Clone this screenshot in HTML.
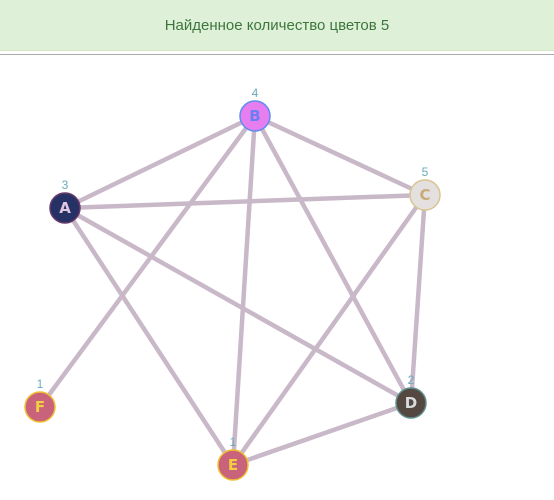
<!DOCTYPE html>
<html><head><meta charset="utf-8"><style>
body{margin:0;width:554px;height:500px;background:#fff;font-family:"Liberation Sans",sans-serif;overflow:hidden}
#hdr{position:absolute;left:0;top:0;width:554px;height:50px;background:#dff0d8;border-bottom:1px solid #d6e9c6;color:#3c763d;font-size:15px;text-align:center;line-height:52px}
#rule{position:absolute;left:0;top:54px;width:554px;height:1px;background:#aaa}
svg{position:absolute;left:0;top:0}
</style></head><body>
<div id="hdr">Найденное количество цветов 5</div>
<div id="rule"></div>
<svg id="g" width="554" height="500"></svg>
<script>
const nodeIds=['A','B','C','D','E','F'];
const nodeX=[65,255,425,411,233,40];
const nodeY=[208,116,195,403,465,407];
const nodeColorNum=[3,4,5,2,1,1];
const edges=[['A','B'],['B','C'],['A','C'],['B','F'],['B','E'],['B','D'],['A','E'],['A','D'],['C','E'],['C','D'],['D','E']];
const fills={1:'#c9627b',2:'#544841',3:'#263166',4:'#e77ef0',5:'#e4e0e0'};
const strokes={1:'#f0c030',2:'#5f8f8f',3:'#6a3a6a',4:'#5b8cf0',5:'#d8c490'};
const texts={1:'#f0d040',2:'#d8dcdc',3:'#e0c8e0',4:'#6b80f0',5:'#c8aa78'};
const NS='http://www.w3.org/2000/svg',svg=document.getElementById('g');
const idx=id=>nodeIds.indexOf(id);
edges.forEach(e=>{const a=idx(e[0]),b=idx(e[1]);const l=document.createElementNS(NS,'line');
l.setAttribute('x1',nodeX[a]);l.setAttribute('y1',nodeY[a]);l.setAttribute('x2',nodeX[b]);l.setAttribute('y2',nodeY[b]);
l.setAttribute('stroke','#c8b8c8');l.setAttribute('stroke-width','4.5');


svg.appendChild(l);});
nodeIds.forEach((id,i)=>{const c=nodeColorNum[i];
const g=document.createElementNS(NS,'g');


const ci=document.createElementNS(NS,'circle');ci.setAttribute('cx',nodeX[i]);ci.setAttribute('cy',nodeY[i]);ci.setAttribute('r',15);
ci.setAttribute('fill',fills[c]);ci.setAttribute('stroke',strokes[c]);ci.setAttribute('stroke-width','1.5');g.appendChild(ci);
const t=document.createElementNS(NS,'text');t.setAttribute('x',nodeX[i]);t.setAttribute('y',nodeY[i]+5);t.setAttribute('text-anchor','middle');
t.setAttribute('font-size','15');t.setAttribute('font-weight','bold');t.setAttribute('font-family','"DejaVu Sans",sans-serif');t.setAttribute('fill',texts[c]);t.textContent=id;g.appendChild(t);
const n=document.createElementNS(NS,'text');n.setAttribute('x',nodeX[i]);n.setAttribute('y',nodeY[i]-19);n.setAttribute('text-anchor','middle');
n.setAttribute('font-size','12');n.setAttribute('fill','#6aaabb');n.textContent=c;


g.appendChild(n);svg.appendChild(g);});
</script>
</body></html>
